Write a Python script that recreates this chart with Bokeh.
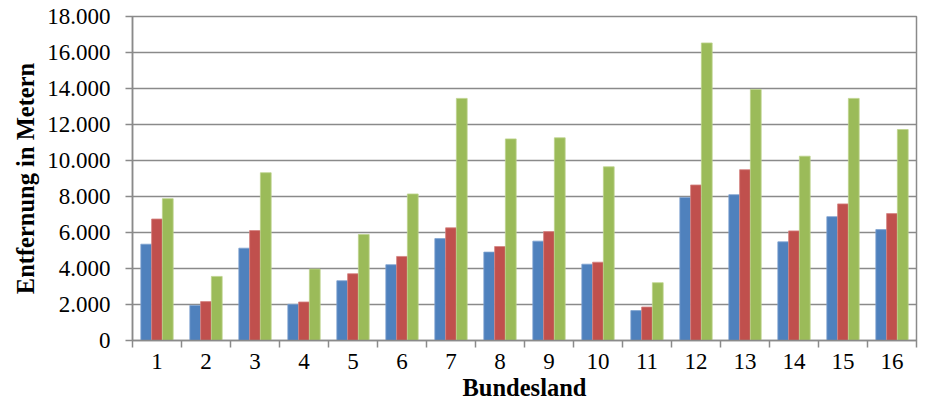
import numpy as np
from bokeh.plotting import figure
from bokeh.models import ColumnDataSource, FixedTicker, CustomJSTickFormatter, Range1d
from bokeh.transform import dodge
from bokeh.embed import file_html
from bokeh.resources import INLINE

categories = [str(i) for i in range(1, 17)]
series_blue = [5350, 1950, 5130, 2010, 3320, 4210, 5660, 4910, 5520, 4240, 1660, 7950, 8100, 5480, 6880, 6160]
series_red = [6750, 2160, 6110, 2140, 3710, 4670, 6260, 5220, 6050, 4350, 1860, 8640, 9490, 6090, 7590, 7050]
series_green = [7880, 3560, 9320, 3970, 5890, 8140, 13450, 11200, 11260, 9650, 3210, 16530, 13950, 10240, 13450, 11720]
y_ticks = list(range(0, 18001, 2000))
x_title = "Bundesland"
y_title = "Entfernung in Metern"

xs = np.arange(1, len(categories) + 1)
src = ColumnDataSource(dict(x=xs, blue=series_blue, red=series_red, green=series_green))

FONT = "Liberation Serif"
GRAY = "#8a8a8a"
FS = "23px"
TFS = "24.5px"

p = figure(width=918, height=403, output_backend="svg", toolbar_location=None,
           x_range=Range1d(0.5, len(categories) + 0.5), y_range=Range1d(0, 18000),
           min_border_top=16, min_border_right=2, min_border_bottom=0, min_border_left=132)
p.background_fill_color = "white"
p.border_fill_color = "white"
p.outline_line_color = GRAY
p.outline_line_width = 1.5

w = 0.22
for col, off, color, edge in [("blue", -w, "#4F81BD", "#7FA2D0"),
                              ("red", 0, "#C0504D", "#D48381"),
                              ("green", w, "#9BBB59", "#BCD38C")]:
    p.vbar(x=dodge("x", off), top=col, width=w, source=src, fill_color=color,
           line_color=edge, line_width=0.8)

p.xgrid.visible = False
p.ygrid.grid_line_color = GRAY
p.ygrid.grid_line_width = 1.5
p.yaxis.ticker = FixedTicker(ticks=y_ticks)
p.yaxis.formatter = CustomJSTickFormatter(code="return Math.round(tick).toString().replace(/\\B(?=(\\d{3})+(?!\\d))/g, '.');")
p.xaxis.ticker = FixedTicker(ticks=list(xs), minor_ticks=[v - 0.5 for v in xs] + [len(categories) + 0.5])
p.xaxis.formatter = CustomJSTickFormatter(args=dict(labels=categories), code="return labels[Math.round(tick) - 1];")

for ax in (p.xaxis[0], p.yaxis[0]):
    ax.axis_line_color = GRAY
    ax.axis_line_width = 1.5
    ax.major_label_text_font = FONT
    ax.major_label_text_font_size = FS
    ax.major_label_text_color = "black"
    ax.axis_label_text_font = FONT
    ax.axis_label_text_font_size = TFS
    ax.axis_label_text_font_style = "bold"
    ax.axis_label_text_color = "black"

p.yaxis.axis_label = y_title
p.xaxis.axis_label = x_title
p.yaxis.major_tick_line_color = GRAY
p.yaxis.major_tick_line_width = 1.5
p.yaxis.major_tick_out = 7
p.yaxis.major_tick_in = 0
p.yaxis.minor_tick_line_color = None
p.yaxis.major_label_standoff = 15
p.yaxis.axis_label_standoff = 5

p.xaxis.major_tick_line_color = None
p.xaxis.major_tick_out = 7
p.xaxis.major_tick_in = 0
p.xaxis.minor_tick_line_color = GRAY
p.xaxis.minor_tick_line_width = 1.5
p.xaxis.minor_tick_out = 7
p.xaxis.minor_tick_in = 0
p.xaxis.major_label_standoff = 6
p.xaxis.axis_label_standoff = 2

open("out.html", "w").write(file_html(p, INLINE))
